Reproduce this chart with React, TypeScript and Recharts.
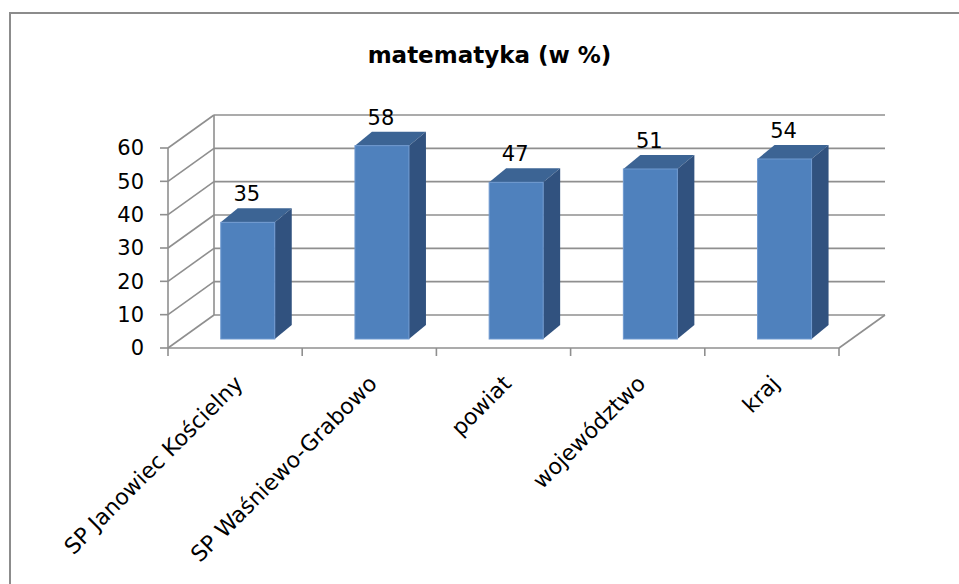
import React from 'react';
import { BarChart, Bar, XAxis, YAxis, CartesianGrid, LabelList } from 'recharts';

// ---- data ----
const categories = ['SP Janowiec Kościelny', 'SP Waśniewo-Grabowo', 'powiat', 'województwo', 'kraj'];
const values = [35, 58, 47, 51, 54];
const yTicks = [0, 10, 20, 30, 40, 50, 60];
const title = 'matematyka (w %)';

const data = categories.map((name, i) => ({ name, value: values[i] }));

// ---- layout / style ----
const W = 959;
const H = 584;
const M = { top: 148, right: 120, bottom: 0, left: 0 };
const Y_AXIS_W = 168;
const X_AXIS_H = 236;
const PLOT_TOP = M.top;
const PLOT_BOTTOM = H - X_AXIS_H;
const BAND = (W - M.right - Y_AXIS_W) / categories.length;
const DEPTH = { dx: 46, dy: -33 };
const BAR_FRONT = { dx: 12.5, dy: -9 };
const BAR_DEPTH = { dx: 17, dy: -14 };
const GRID = '#8f8f8f';
const GW = 1.6;
const FONT = '"DejaVu Sans", sans-serif';

const gridLine = (p: any) => {
  const x1 = Number(p.x1);
  const x2 = Number(p.x2);
  const y1 = Number(p.y1);
  const top = p.y != null ? Number(p.y) : PLOT_TOP;
  const height = p.height != null ? Number(p.height) : PLOT_BOTTOM - PLOT_TOP;
  const bx1 = x1 + DEPTH.dx;
  const bx2 = x2 + DEPTH.dx;
  const by = y1 + DEPTH.dy;
  const isBottom = Math.abs(y1 - (top + height)) < 0.6;
  const isTop = Math.abs(y1 - top) < 0.6;
  return (
    <g key={`grid-${p.index}`}>
      <line x1={x1} y1={y1} x2={bx1} y2={by} stroke={GRID} strokeWidth={GW} />
      <line x1={bx1} y1={by} x2={bx2} y2={by} stroke={GRID} strokeWidth={GW} />
      {isBottom && <line x1={x2} y1={y1} x2={bx2} y2={by} stroke={GRID} strokeWidth={GW} />}
      {isTop && <line x1={bx1} y1={by} x2={bx1} y2={by + height} stroke={GRID} strokeWidth={GW} />}
    </g>
  );
};

const renderXTick = (p: any) => {
  const x = Number(p.x);
  const payload = p.payload || {};
  const half = payload.offset > 0 ? payload.offset : BAND / 2;
  const axisY = PLOT_BOTTOM;
  const last = p.index === categories.length - 1;
  return (
    <g>
      <line x1={x - half} y1={axisY} x2={x - half} y2={axisY + 8} stroke={GRID} strokeWidth={GW} />
      {last && <line x1={x + half} y1={axisY} x2={x + half} y2={axisY + 8} stroke={GRID} strokeWidth={GW} />}
      <text
        transform={`translate(${x + 9},${axisY + 37}) rotate(-45)`}
        textAnchor="end"
        fontSize={22}
        fontFamily={FONT}
        fill="#000"
      >
        {payload.value}
      </text>
    </g>
  );
};

const BarShape = (p: any) => {
  const x = Number(p.x);
  const y = Number(p.y);
  const width = Number(p.width);
  const height = Number(p.height);
  if (!isFinite(x) || !isFinite(y) || !(width > 0)) return null;
  const fx = x + BAR_FRONT.dx;
  const fy = y + BAR_FRONT.dy;
  const { dx, dy } = BAR_DEPTH;
  return (
    <g>
      <polygon
        points={`${fx},${fy} ${fx + dx},${fy + dy} ${fx + width + dx},${fy + dy} ${fx + width},${fy}`}
        fill="#3C6494"
      />
      <polygon
        points={`${fx + width},${fy} ${fx + width + dx},${fy + dy} ${fx + width + dx},${fy + height + dy} ${fx + width},${fy + height}`}
        fill="#31527F"
      />
      <rect x={fx} y={fy} width={width} height={height} fill="#4F81BD" stroke="#6F99D0" strokeWidth={1} />
    </g>
  );
};

const renderLabel = (p: any) => {
  const x = Number(p.x);
  const y = Number(p.y);
  const width = Number(p.width);
  return (
    <text
      key={`lbl-${p.index}`}
      x={x + width / 2 + BAR_FRONT.dx - 1}
      y={y - 30}
      textAnchor="middle"
      fontSize={21}
      fontFamily={FONT}
      fill="#000"
    >
      {p.value}
    </text>
  );
};

export default function App() {
  return (
    <div style={{ position: 'absolute', left: 0, top: 0, width: W, height: H, background: '#fff', overflow: 'hidden' }}>
      <div
        style={{
          position: 'absolute',
          left: 9,
          top: 12,
          width: W,
          height: H,
          borderLeft: '2px solid #8c8c8c',
          borderTop: '2px solid #8c8c8c',
          boxSizing: 'border-box',
        }}
      />
      <svg width={W} height={H} style={{ position: 'absolute', left: 0, top: 0 }}>
        <text x={489.5} y={63} textAnchor="middle" fontSize={23} fontWeight="bold" fontFamily={FONT} fill="#000">
          {title}
        </text>
      </svg>
      <div style={{ position: 'absolute', left: 0, top: 0 }}>
        <BarChart width={W} height={H} data={data} margin={M} barCategoryGap="30%">
          <CartesianGrid vertical={false} horizontal={gridLine} />
          <XAxis
            dataKey="name"
            height={X_AXIS_H}
            interval={0}
            tickLine={false}
            tickSize={8}
            tickMargin={0}
            axisLine={{ stroke: GRID, strokeWidth: GW }}
            tick={renderXTick}
          />
          <YAxis
            type="number"
            domain={[0, 60]}
            ticks={yTicks}
            interval={0}
            width={Y_AXIS_W}
            tickSize={8}
            tickMargin={16}
            axisLine={{ stroke: GRID, strokeWidth: GW }}
            tickLine={{ stroke: GRID, strokeWidth: GW }}
            tick={{ fill: '#000', fontSize: 21, fontFamily: FONT }}
          />
          <Bar dataKey="value" shape={BarShape} isAnimationActive={false}>
            <LabelList dataKey="value" content={renderLabel} />
          </Bar>
        </BarChart>
      </div>
    </div>
  );
}
